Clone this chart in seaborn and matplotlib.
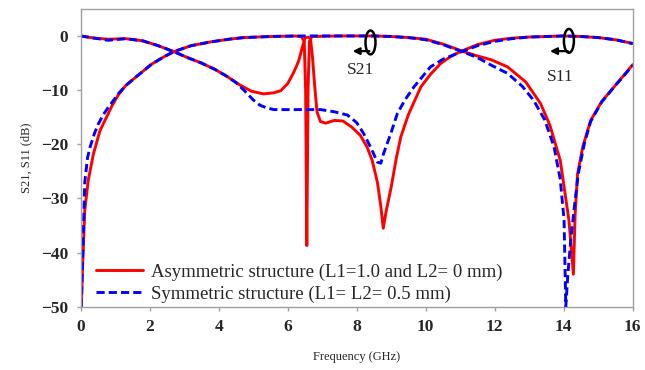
import numpy as np
import pandas as pd
import matplotlib
matplotlib.use("Agg")
import matplotlib.pyplot as plt
import seaborn as sns
from matplotlib.lines import Line2D
from matplotlib.patches import Ellipse

# --------------------------------------------------------------------------------
# Data
# --------------------------------------------------------------------------------
# Asymmetric structure (L1=1.0, L2=0 mm)
asym_s11_f = [0, 0.4, 0.8, 1.3, 1.8, 2.25, 2.7, 3.1, 3.5, 3.9, 4.25, 4.6, 4.95, 5.3, 5.6,
              5.8, 6.0, 6.17, 6.32, 6.42, 6.5, 6.58, 6.66, 6.72, 6.78, 6.85, 6.95, 7.1,
              7.35, 7.6, 7.85, 8.1, 8.3, 8.45, 8.6, 8.7, 8.77, 8.85, 9.0, 9.15, 9.28,
              9.5, 9.86, 10.15, 10.43, 10.7, 11.0, 11.5, 12.0, 12.5, 13.0, 13.5, 14.0,
              14.5, 15.0, 15.5, 16.0]
asym_s11_db = [0, -0.4, -0.6, -0.5, -0.9, -1.8, -2.9, -4.0, -5.0, -6.2, -7.5, -9.0, -10.2,
               -10.7, -10.5, -10.1, -8.8, -6.8, -4.6, -2.2, -0.4, -0.2, -0.4, -4.0, -9.0,
               -14.0, -15.8, -16.1, -15.6, -15.7, -16.8, -18.3, -20.5, -23.0, -27.0,
               -31.5, -35.5, -32.5, -27.9, -22.5, -18.6, -14.5, -9.4, -7.0, -5.1, -3.9,
               -2.9, -1.6, -0.8, -0.4, -0.2, -0.1, 0.0, -0.1, -0.3, -0.7, -1.4]

asym_s21_f = [0.02, 0.06, 0.12, 0.22, 0.37, 0.56, 0.75, 0.9, 1.09, 1.3, 1.58, 2.06, 2.4,
              2.7, 3.2, 3.77, 4.3, 4.73, 5.5, 6.2, 6.4, 6.48, 6.52, 6.555, 6.59, 6.63,
              6.7, 7.5, 8.5, 9.0, 9.5, 10.0, 10.5, 11.1, 11.5, 11.9, 12.37, 12.9, 13.33,
              13.6, 13.9, 14.15, 14.28, 14.33, 14.4, 14.55, 14.78, 15.1, 15.46, 15.75, 16.0]
asym_s21_db = [-50, -42, -32.2, -26.7, -21.8, -17.5, -15.0, -13.0, -10.9, -9.2, -7.7, -5.2,
               -3.9, -2.9, -1.8, -1.1, -0.6, -0.3, -0.1, 0.0, -0.1, -1.0, -10.0, -38.7,
               -10.0, -1.0, -0.1, 0.0, 0.0, -0.1, -0.3, -0.6, -1.5, -2.9, -3.7, -4.4,
               -5.7, -8.5, -12.5, -16.5, -23.0, -34.0, -44.0, -33.0, -25.5, -20.5, -15.6,
               -12.1, -9.4, -7.2, -5.3]

# Symmetric structure (L1=L2=0.5 mm)
sym_s11_f = [0, 0.4, 0.8, 1.3, 1.8, 2.25, 2.7, 3.1, 3.5, 3.9, 4.25, 4.5, 4.73, 5.0, 5.2,
             5.4, 5.6, 6.0, 6.5, 6.96, 7.35, 7.73, 8.0, 8.2, 8.4, 8.6, 8.7, 8.78, 9.0,
             9.18, 9.4, 9.66, 10.14, 10.5, 10.92, 11.5, 12.0, 12.5, 13.0, 13.5, 14.0,
             14.5, 15.0, 15.5, 16.0]
sym_s11_db = [0, -0.4, -0.8, -0.5, -0.9, -1.8, -2.9, -4.0, -5.0, -6.2, -7.5, -8.6, -10.0,
              -11.8, -12.8, -13.3, -13.6, -13.6, -13.6, -13.6, -14.0, -14.6, -16.0, -18.0,
              -20.5, -23.3, -23.5, -21.7, -17.8, -14.3, -11.8, -9.4, -5.7, -4.3, -3.2,
              -1.8, -1.0, -0.5, -0.2, -0.1, 0.0, -0.1, -0.3, -0.7, -1.4]

sym_s21_f = [0.02, 0.05, 0.08, 0.12, 0.2, 0.27, 0.4, 0.51, 0.65, 0.8, 1.09, 1.3, 1.58,
             2.06, 2.4, 2.7, 3.2, 3.77, 4.3, 4.73, 5.5, 6.5, 7.5, 8.5, 9.0, 9.5, 10.0,
             10.5, 11.1, 11.5, 11.9, 12.37, 12.8, 13.13, 13.45, 13.72, 13.9, 14.01,
             14.06, 14.12, 14.2, 14.3, 14.42, 14.6, 14.78, 15.1, 15.46, 15.75, 16.0]
sym_s21_db = [-50, -43, -36, -27, -22.5, -20.6, -18.0, -16.3, -14.6, -13.2, -10.7, -9.2,
              -7.7, -5.2, -3.9, -2.9, -1.8, -1.1, -0.6, -0.3, -0.1, 0.0, 0.0, 0.0, -0.1,
              -0.3, -0.7, -1.6, -3.0, -4.0, -5.4, -6.9, -9.3, -11.9, -15.5, -20.5, -26.5,
              -34.0, -50.0, -44.0, -38.0, -32.0, -25.5, -19.8, -15.8, -12.2, -9.4, -7.3,
              -5.4]

legend_labels = ["Asymmetric structure (L1=1.0 and L2= 0 mm)",
                 "Symmetric structure (L1= L2= 0.5 mm)"]

# --------------------------------------------------------------------------------
# Style
# --------------------------------------------------------------------------------
sns.set_theme(style="white")
plt.rcParams["font.family"] = ["Liberation Serif", "DejaVu Serif"]
plt.rcParams["axes.unicode_minus"] = True

RED  = "#ff0000"
BLUE = "#0000ff"
LW   = 2.1
DASH = (2.8, 1.4)

fig = plt.figure(figsize=(6.45, 3.70), dpi=100)
ax  = fig.add_axes([0.125, 0.171, 0.856, 0.805])

# Red (asymmetric) first, blue dashed on top
for f, v in [(asym_s11_f, asym_s11_db), (asym_s21_f, asym_s21_db)]:
    sns.lineplot(x=f, y=v, ax=ax, color=RED, linewidth=LW, estimator=None, sort=False)
for f, v in [(sym_s11_f, sym_s11_db), (sym_s21_f, sym_s21_db)]:
    sns.lineplot(x=f, y=v, ax=ax, color=BLUE, linewidth=LW, estimator=None, sort=False,
                 dashes=False, linestyle=(0, DASH))

ax.set_xlim(0, 16)
ax.set_ylim(-50, 5)
ax.set_xticks(range(0, 17, 2))
ax.set_yticks(range(-50, 1, 10))

for sp in ax.spines.values():
    sp.set_color("#a0a0a0")
    sp.set_linewidth(1.0)
ax.tick_params(axis="both", direction="out", length=3, width=1, color="#a0a0a0",
               labelsize=12.5, pad=6, bottom=True, left=True)
plt.setp(ax.get_xticklabels(), fontweight="bold")
plt.setp(ax.get_yticklabels(), fontweight="bold")

ax.set_xlabel("Frequency (GHz)", fontsize=9, labelpad=11)
ax.set_ylabel("S21, S11 (dB)", fontsize=9, labelpad=6)

# Annotations: loop + arrow + label
for cx, cy, ax_end, txt_x, txt_y, txt in [(8.4, -1.2, 7.8, 8.1, -6.3, "S21"),
                                          (14.15, -0.9, 13.52, 13.9, -7.6, "S11")]:
    ax.add_patch(Ellipse((cx, cy), width=0.29, height=4.4, fill=False,
                         edgecolor="black", linewidth=1.8, zorder=5))
    ax.annotate("", xy=(ax_end, -2.8), xytext=(cx + 0.05, -2.8),
                arrowprops=dict(arrowstyle="-|>", color="black", lw=1.6,
                                mutation_scale=10), zorder=5)
    ax.text(txt_x, txt_y, txt, fontsize=12.5, ha="center", va="center", zorder=5)

handles = [Line2D([0], [0], color=RED, lw=LW),
           Line2D([0], [0], color=BLUE, lw=LW, linestyle=(0, DASH))]
ax.legend(handles, legend_labels, loc="lower left", bbox_to_anchor=(0.015, -0.012),
          frameon=False, fontsize=13.5, handlelength=2.5, handletextpad=0.4,
          labelspacing=0.25, borderaxespad=0)

fig.savefig("out.png", dpi=100)
